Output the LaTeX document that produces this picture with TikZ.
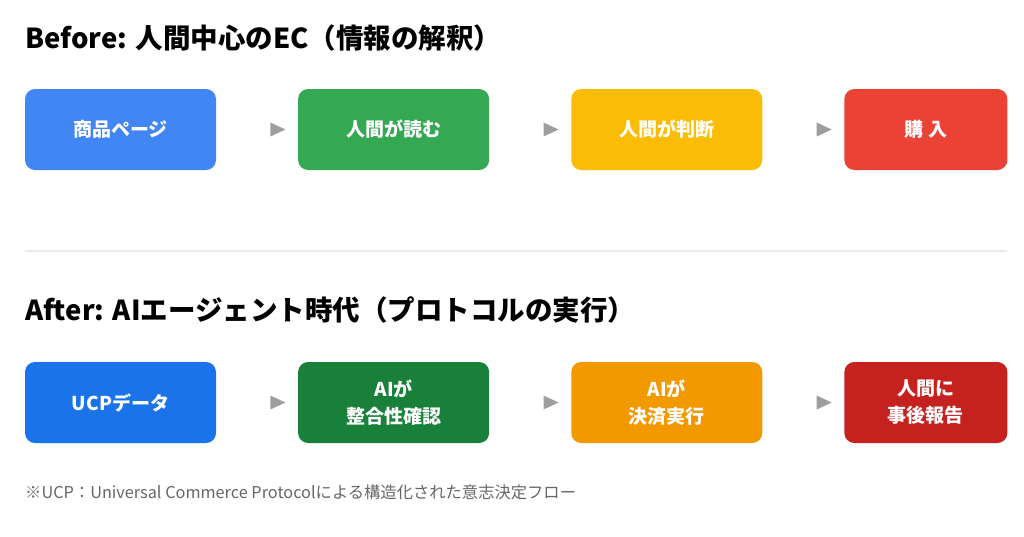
\documentclass[tikz,border=0pt]{standalone}
\usepackage{fontspec}
\setmainfont{Noto Sans CJK JP}
\usepackage{xcolor}
\usetikzlibrary{shapes,arrows,positioning}

\definecolor{gblue}{HTML}{4285F4}
\definecolor{ggreen}{HTML}{34A853}
\definecolor{gyellow}{HTML}{FBBC05}
\definecolor{gred}{HTML}{EA4335}
\definecolor{dblue}{HTML}{1A73E8}
\definecolor{dgreen}{HTML}{188038}
\definecolor{dorange}{HTML}{F29900}
\definecolor{dred}{HTML}{C5221F}
\definecolor{tri}{HTML}{9E9E9E}
\definecolor{note}{HTML}{666666}
\definecolor{rule}{HTML}{EBEBEB}

\begin{document}
\begin{tikzpicture}[x=1pt, y=1pt, node distance=82pt]
        \tikzstyle{stage}=[rounded corners=10pt, minimum width=191pt, minimum height=81pt, inner sep=0pt,
            text=white, align=center, font=\bfseries\fontsize{19}{27}\selectfont]
        \tikzstyle{last}=[minimum width=163pt]
        \tikzstyle{tip}=[isosceles triangle, isosceles triangle stretches, minimum width=14pt,
            minimum height=15pt, inner sep=0pt, fill=tri]
        \tikzstyle{head}=[anchor=west, inner sep=0pt, font=\bfseries\fontsize{27.5}{30}\selectfont]
        \useasboundingbox (0,0) rectangle (1024,-536);
        % before
        \node[head]  (T1) at (25,-38)   {Before: 人間中心のEC（情報の解釈）};
        \node[stage, fill=gblue]   (B1) at (120.5,-129.5)  {商品ページ};
        \node[tip]   (A1)[right=54pt of B1]  {};
        \node[stage, fill=ggreen]  (B2)[right=12pt of A1]  {人間が読む};
        \node[tip]   (A2)[right=54pt of B2]  {};
        \node[stage, fill=gyellow] (B3)[right=12pt of A2]  {人間が判断};
        \node[tip]   (A3)[right=54pt of B3]  {};
        \node[stage, last, fill=gred] (B4)[right=12pt of A3]  {購 入};
        % separator
        \coordinate (L) at (25,-251);
        \coordinate (R) at (1007,-251);
        \draw[rule, line width=2pt] (L) -- (R);
        % after
        \node[head]  (T2) at (25,-310)  {After: AIエージェント時代（プロトコルの実行）};
        \node[stage, fill=dblue]   (C1) at (120.5,-402.5)  {UCPデータ};
        \node[tip]   (D1)[right=54pt of C1]  {};
        \node[stage, fill=dgreen]  (C2)[right=12pt of D1]  {AIが\\整合性確認};
        \node[tip]   (D2)[right=54pt of C2]  {};
        \node[stage, fill=dorange] (C3)[right=12pt of D2]  {AIが\\決済実行};
        \node[tip]   (D3)[right=54pt of C3]  {};
        \node[stage, last, fill=dred] (C4)[right=12pt of D3]  {人間に\\事後報告};
        \node[anchor=west, inner sep=0pt, text=note, font=\fontsize{16.3}{18}\selectfont] (N) at (25,-492)
            {※UCP：Universal Commerce Protocolによる構造化された意志決定フロー};
\end{tikzpicture}
\end{document}
